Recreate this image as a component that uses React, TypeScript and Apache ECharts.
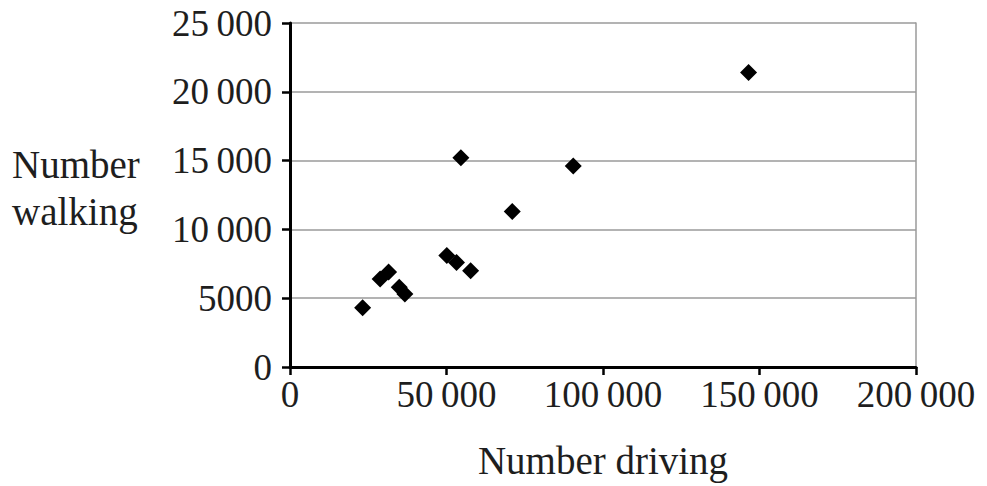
import React, { useEffect, useRef } from "react";
import * as echarts from "echarts";

const drivingValues = [146500, 54600, 90500, 71000, 50100, 53200, 57700, 28800, 31500, 34900, 36700, 23200];
const walkingValues = [21400, 15200, 14600, 11300, 8100, 7600, 7000, 6400, 6900, 5800, 5300, 4300];
const xTickValues = [0, 50000, 100000, 150000, 200000];
const xTickLabels = ["0", "50\u2009000", "100\u2009000", "150\u2009000", "200\u2009000"];
const yTickValues = [0, 5000, 10000, 15000, 20000, 25000];
const yTickLabels = ["0", "5000", "10\u2009000", "15\u2009000", "20\u2009000", "25\u2009000"];
const xAxisTitle = "Number driving";
const yAxisTitle = "Number\nwalking";

const FONT = "'Liberation Serif', 'Times New Roman', serif";

export default function App() {
  const ref = useRef<HTMLDivElement>(null);
  useEffect(() => {
    if (!ref.current) return;
    const chart = echarts.init(ref.current, null, { renderer: "svg" });
    const data = drivingValues.map((d, i) => [d, walkingValues[i]]);
    const xFmt = (v: number) => {
      const idx = xTickValues.indexOf(v);
      return idx >= 0 ? xTickLabels[idx] : "";
    };
    const yFmt = (v: number) => {
      const idx = yTickValues.indexOf(v);
      return idx >= 0 ? yTickLabels[idx] : "";
    };
    chart.setOption({
      animation: false,
      backgroundColor: "#ffffff",
      grid: { left: 290, right: 71, top: 23, bottom: 119, containLabel: false },
      xAxis: {
        type: "value",
        min: 0,
        max: 200000,
        interval: 50000,
        name: xAxisTitle,
        nameLocation: "middle",
        nameGap: 74,
        nameTextStyle: { fontFamily: FONT, fontSize: 39, color: "#1e1e1e" },
        axisLine: { show: true, onZero: false, lineStyle: { color: "#000", width: 3 } },
        axisTick: { show: true, inside: false, length: 8, lineStyle: { color: "#000", width: 2.5 } },
        axisLabel: { fontFamily: FONT, fontSize: 37, color: "#1e1e1e", margin: 9, formatter: xFmt },
        splitLine: { show: false },
      },
      yAxis: [
        {
          type: "value",
          min: 0,
          max: 25000,
          interval: 5000,
          axisLine: { show: true, lineStyle: { color: "#000", width: 3 } },
          axisTick: { show: true, inside: false, length: 8, lineStyle: { color: "#000", width: 2.5 } },
          axisLabel: { fontFamily: FONT, fontSize: 37, color: "#1e1e1e", margin: 18, formatter: yFmt },
          splitLine: { show: true, lineStyle: { color: "#9a9a9a", width: 1.5 } },
        },
        {
          type: "value",
          position: "right",
          min: 0,
          max: 25000,
          interval: 5000,
          axisLine: { show: true, lineStyle: { color: "#9a9a9a", width: 1.5 } },
          axisTick: { show: false },
          axisLabel: { show: false },
          splitLine: { show: false },
        },
      ],
      graphic: [
        {
          type: "text",
          left: 12,
          top: 141,
          style: {
            text: yAxisTitle,
            fontFamily: FONT,
            fontSize: 39,
            lineHeight: 47,
            fill: "#1e1e1e",
          },
        },
      ],
      series: [
        {
          type: "scatter",
          yAxisIndex: 0,
          symbol: "diamond",
          symbolSize: 17,
          itemStyle: { color: "#000", opacity: 1 },
          data,
        },
      ],
    });
    return () => chart.dispose();
  }, []);
  return (
    <div
      ref={ref}
      style={{ position: "fixed", left: 0, top: 0, width: 987, height: 486, background: "#fff" }}
    />
  );
}
